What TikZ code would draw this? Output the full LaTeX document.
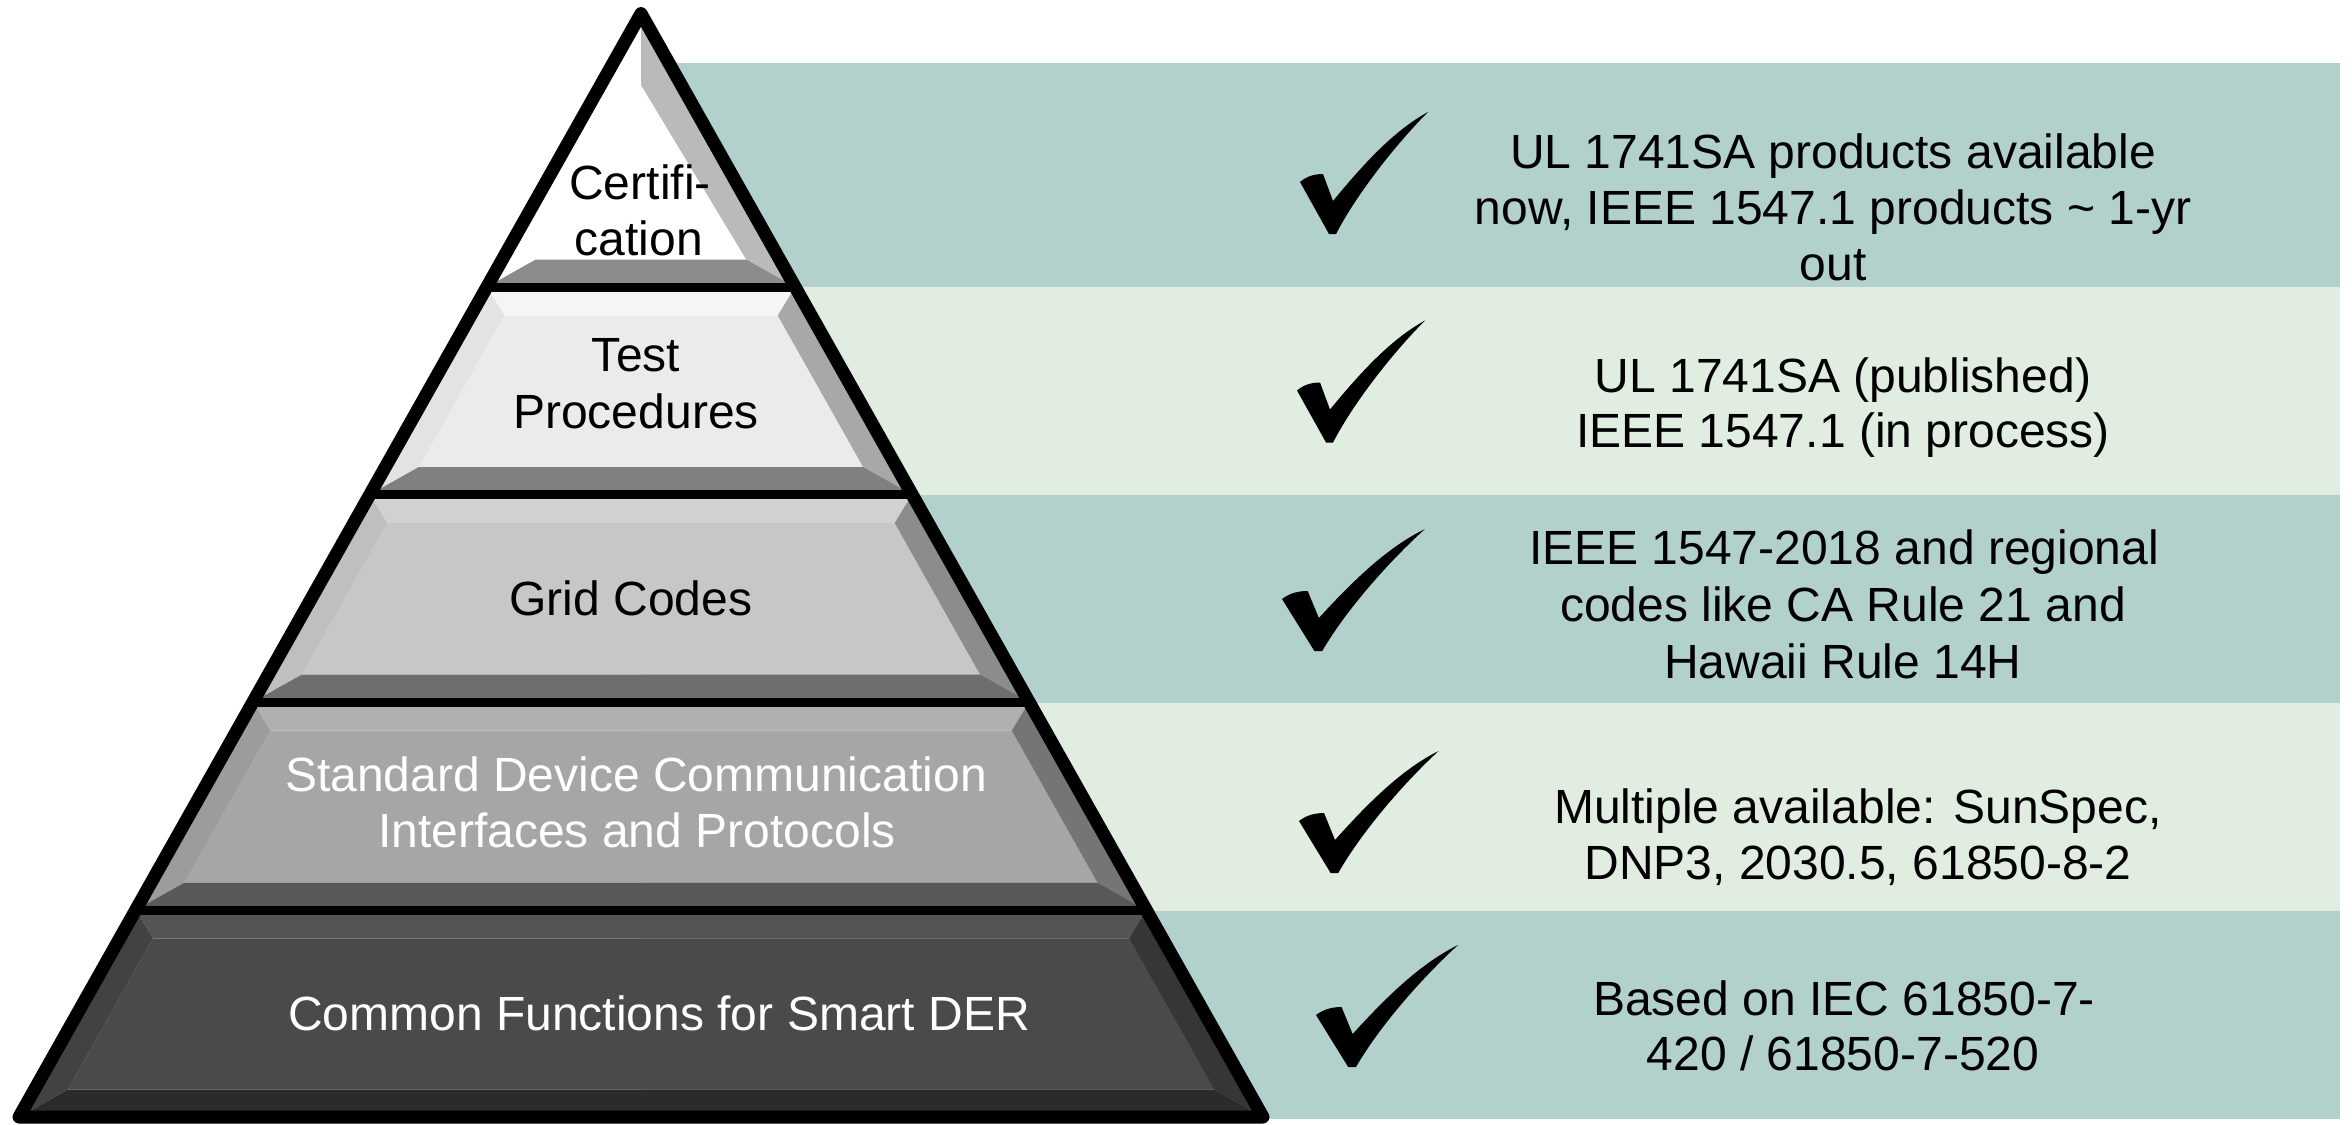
\documentclass[tikz,border=0pt]{standalone}
\usepackage{fontspec}
\setmainfont{Liberation Sans}
\definecolor{bandA}{HTML}{B2D0CC}
\definecolor{bandB}{HTML}{E2EDE2}
\newcommand\tierbox[7]{%
 \pgfmathsetmacro\tbya{#1}\pgfmathsetmacro\tbyb{#2}%
 \pgfmathsetmacro\tbyc{#1+28.5}\pgfmathsetmacro\tbyd{#2-27.5}%
 \pgfmathsetmacro\tbxa{641-0.5637*(\tbya-13.5)}\pgfmathsetmacro\tbXa{1282-\tbxa}%
 \pgfmathsetmacro\tbxb{641-0.5637*(\tbyb-13.5)}\pgfmathsetmacro\tbXb{1282-\tbxb}%
 \pgfmathsetmacro\tbxc{641-0.5637*(\tbyc-13.5)+33.5}\pgfmathsetmacro\tbXc{1282-\tbxc}%
 \pgfmathsetmacro\tbxd{641-0.5637*(\tbyd-13.5)+33.5}\pgfmathsetmacro\tbXd{1282-\tbxd}%
 \fill[#3] (\tbxc,\tbyc) -- (\tbXc,\tbyc) -- (\tbXd,\tbyd) -- (\tbxd,\tbyd) -- cycle;
 \fill[#4] (\tbxa,\tbya) -- (\tbXa,\tbya) -- (\tbXc,\tbyc) -- (\tbxc,\tbyc) -- cycle;
 \fill[#5] (\tbxa,\tbya) -- (\tbxc,\tbyc) -- (\tbxd,\tbyd) -- (\tbxb,\tbyb) -- cycle;
 \fill[#6] (\tbXa,\tbya) -- (\tbXc,\tbyc) -- (\tbXd,\tbyd) -- (\tbXb,\tbyb) -- cycle;
 \fill[#7] (\tbxb,\tbyb) -- (\tbXb,\tbyb) -- (\tbXd,\tbyd) -- (\tbxd,\tbyd) -- cycle;
}
\newcommand\checkmk[3]{%
 \begin{scope}[shift={(#1,#2)},xscale=#3]
 \fill[black] (0,82) .. controls (7,76) and (15,74) .. (23,74) -- (33,101)
   .. controls (65,62) and (95,30) .. (128,12)
   .. controls (102,38) and (60,88) .. (36,134) -- (29,134) -- cycle;
 \end{scope}}
\newcommand\divline[1]{%
 \pgfmathsetmacro\dlx{641-0.5637*(#1-13.5)}\pgfmathsetmacro\dlX{1282-\dlx}%
 \draw[line width=9pt] (\dlx,#1) -- (\dlX,#1);}
\begin{document}
\begin{tikzpicture}[x=1pt,y=-1pt,
  lbl/.style={anchor=base, inner sep=0pt, font=\fontsize{48}{56}\selectfont},
  wlbl/.style={lbl, text=white}]
\useasboundingbox (0,0) rectangle (2352,1124);
\fill[white] (0,0) rectangle (2352,1124);
% bands
\fill[bandA] (641,63) rectangle (2340,287);
\fill[bandB] (641,287) rectangle (2340,494.5);
\fill[bandA] (641,494.5) rectangle (2340,702.5);
\fill[bandB] (641,702.5) rectangle (2340,910.5);
\fill[bandA] (641,910.5) rectangle (2340,1119);
% tier 1
\fill[white] (641,13.5) -- (795.17,287) -- (486.83,287) -- cycle;
\fill[black!27] (641,13.5) -- (795.17,287) -- (746.2,259.5) -- (641,85) -- cycle;
\fill[black!45] (486.83,287) -- (795.17,287) -- (746.2,259.5) -- (535.8,259.5) -- cycle;
% tiers 2-5
\tierbox{287}{494.5}{black!8}{black!4}{black!11}{black!34}{black!50}
\tierbox{494.5}{702}{black!22}{black!18}{black!25}{black!45}{black!57}
\tierbox{702}{910}{black!35}{black!31}{black!39}{black!54}{black!65}
\tierbox{910}{1117}{black!71}{black!67}{black!74}{black!79}{black!83}
% dividers and outline
\divline{287}
\divline{494.5}
\divline{702}
\divline{910}
\draw[line width=13pt, line join=round] (641,13.5) -- (1263,1117) -- (19,1117) -- cycle;
% checks
\checkmk{1300}{100}{1}
\checkmk{1297}{308.5}{1}
\checkmk{1282}{517}{1.117}
\checkmk{1299}{739}{1.09}
\checkmk{1316}{933}{1.11}
% pyramid labels
\node[lbl] (p1a) at (640,199) {Certifi-};
\node[lbl] (p1b) at (639,255.5) {cation};
\node[lbl] (p2a) at (636,371) {Test};
\node[lbl] (p2b) at (636,428) {Procedures};
\node[lbl] (p3) at (631,615) {Grid Codes};
\node[wlbl] (p4a) at (636,791.5) {Standard Device Communication};
\node[wlbl] (p4b) at (637,847) {Interfaces and Protocols};
\node[wlbl] (p5) at (659,1030) {Common Functions for Smart DER};
% right texts
\node[lbl] (r1a) at (1833,168.5) {UL 1741SA products available};
\node[lbl] (r1b) at (1833,224) {now, IEEE 1547.1 products \textasciitilde{} 1-yr};
\node[lbl] (r1c) at (1833,280.5) {out};
\node[lbl] (r2a) at (1843,392.3) {UL 1741SA (published)};
\node[lbl] (r2b) at (1843,447.8) {IEEE 1547.1 (in process)};
\node[lbl] (r3a) at (1844,564.5) {IEEE 1547-2018 and regional};
\node[lbl] (r3b) at (1843,621.2) {codes like CA Rule 21 and};
\node[lbl] (r3c) at (1843,678.5) {Hawaii Rule 14H};
\node[lbl] (r4a) at (1858,823) {Multiple available: SunSpec,};
\node[lbl] (r4b) at (1858,879.7) {DNP3, 2030.5, 61850-8-2};
\node[lbl] (r5a) at (1844,1015) {Based on IEC 61850-7-};
\node[lbl] (r5b) at (1843,1070.7) {420 / 61850-7-520};
\end{tikzpicture}
\end{document}
